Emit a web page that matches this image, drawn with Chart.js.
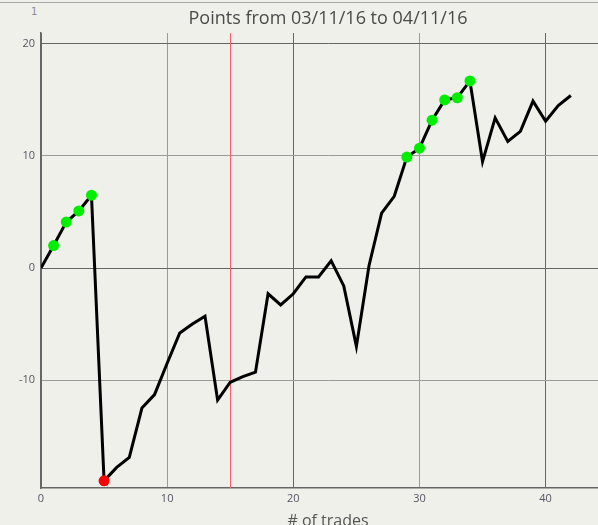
<!DOCTYPE html>
<html>
<head>
<meta charset="utf-8">
<script src="https://cdn.jsdelivr.net/npm/chart.js@4"></script>
<style>
    html, body { margin: 0; padding: 0; background: #f0f0ea; overflow: hidden; }
    #wrap { position: relative; width: 598px; height: 525px; overflow: hidden; }
    #topline { position: absolute; left: 0; top: 2px; width: 598px; height: 1px; background: #a8a8a8; }
    #corner { position: absolute; left: 31px; top: 6px; font: 10px "DejaVu Sans", sans-serif; color: #8a8a98; }
    #box { position: absolute; left: 0; top: 0; width: 656px; height: 531px; }
</style>
</head>
<body>
<div id="wrap">
    <div id="topline"></div>
    <div id="corner">1</div>
    <div id="box"><canvas id="tradeGraph"></canvas></div>
</div>
<script>
// trade number on x, running points on y
const trades = [0, 1, 2, 3, 4, 5, 6, 7, 8, 9, 10, 11, 12, 13, 14, 15, 16, 17, 18, 19, 20,
    21, 22, 23, 24, 25, 26, 27, 28, 29, 30, 31, 32, 33, 34, 35, 36, 37, 38, 39, 40, 41, 42];
const points = [0, 2.0, 4.1, 5.1, 6.5, -19.0, -17.8, -16.9, -12.5, -11.3, -8.5,
    -5.8, -5.0, -4.3, -11.8, -10.2, -9.7, -9.3, -2.3, -3.3, -2.3,
    -0.8, -0.8, 0.65, -1.6, -7.0, 0.2, 4.9, 6.4, 9.9, 10.7,
    13.2, 15.0, 15.2, 16.7, 9.5, 13.4, 11.3, 12.2, 14.9, 13.1, 14.5, 15.4];
const newHighs = [1, 2, 3, 4, 29, 30, 31, 32, 33, 34];
const newLows = [5];
const markerTrade = 15;
const xTicks = [0, 10, 20, 30, 40];
const yTicks = [-10, 0, 10, 20];

const markerLine = {
    id: 'markerLine',
    beforeDatasetsDraw(chart) {
        const { ctx, chartArea, scales } = chart;
        const x = scales.x.getPixelForValue(markerTrade);
        ctx.save();
        ctx.strokeStyle = '#ff5a6e';
        ctx.lineWidth = 1;
        ctx.beginPath();
        ctx.moveTo(Math.round(x) + 0.5, chartArea.top);
        ctx.lineTo(Math.round(x) + 0.5, chartArea.bottom);
        ctx.stroke();
        ctx.restore();
    }
};

function gridColor(c) {
    return c.tick && c.tick.value % 20 === 0 ? '#666666' : '#9a9a9a';
}

const ctx = document.getElementById('tradeGraph').getContext('2d');
new Chart(ctx, {
    type: 'line',
    data: {
        datasets: [{
            data: trades.map((t, i) => ({ x: t, y: points[i] })),
            borderColor: '#000000',
            borderWidth: 3,
            tension: 0,
            pointRadius: c => (newHighs.includes(c.dataIndex) || newLows.includes(c.dataIndex)) ? 5.5 : 0,
            pointBackgroundColor: c => newLows.includes(c.dataIndex) ? '#ff0000' : '#00ee00',
            pointBorderWidth: 0,
            pointHoverRadius: 0
        }]
    },
    plugins: [markerLine],
    options: {
        responsive: true,
        maintainAspectRatio: false,
        animation: false,
        layout: { padding: { left: 0, right: 41, top: 0, bottom: 0 } },
        plugins: {
            legend: { display: false },
            tooltip: { enabled: false },
            title: {
                display: true,
                fullSize: false,
                text: 'Points from 03/11/16 to 04/11/16',
                color: '#4a4a4a',
                font: { family: 'Open Sans', size: 18, weight: 'normal' },
                padding: { top: 8, bottom: 3.4 }
            }
        },
        scales: {
            x: {
                type: 'linear',
                min: 0,
                max: 45.5,
                afterFit: s => { s.height = 43; },
                afterBuildTicks: s => { s.ticks = xTicks.map(v => ({ value: v })); },
                border: { color: '#666666', width: 1.5 },
                grid: { color: gridColor, drawTicks: false, lineWidth: 1 },
                ticks: { color: '#555566', padding: 4, font: { family: 'Open Sans', size: 11 } },
                title: {
                    display: true,
                    text: '# of trades',
                    color: '#555555',
                    font: { family: 'Open Sans', size: 16 },
                    padding: 0
                }
            },
            y: {
                min: -19.64,
                max: 20.98,
                afterFit: s => { s.width = 41; },
                afterBuildTicks: s => { s.ticks = yTicks.map(v => ({ value: v })); },
                border: { color: '#666666', width: 1.5 },
                grid: { color: gridColor, drawTicks: false, lineWidth: 1 },
                ticks: { color: '#555566', padding: 6, font: { family: 'Open Sans', size: 11 } }
            }
        }
    }
});
</script>
</body>
</html>
